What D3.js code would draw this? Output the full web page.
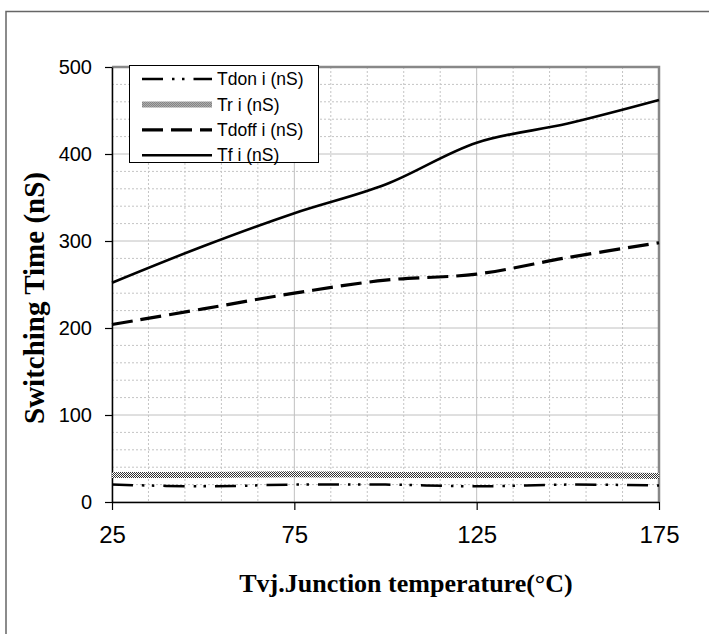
<!DOCTYPE html>
<html>
<head>
<meta charset="utf-8">
<script src="https://cdn.jsdelivr.net/npm/d3@7"></script>
<style>
  body { margin: 0; background: #fff; }
  text { font-family: "Liberation Sans", Arial, sans-serif; }
  .title { font-family: "Liberation Serif", "Times New Roman", serif; font-weight: bold; }
</style>
</head>
<body>
<div id="chart"></div>
<script>
// data
const temps = [25, 50, 75, 100, 125, 150, 175];
const tdon  = [20, 18, 20, 20, 18, 20, 19];
const tr    = [31, 31, 32, 31, 31, 31, 30];
const tdoff = [204, 222, 240, 255, 262, 281, 298];
const tf    = [252, 294, 332, 365, 413, 435, 462];
const seriesNames = ["Tdon i (nS)", "Tr i (nS)", "Tdoff i (nS)", "Tf i (nS)"];
const xTicks = [25, 75, 125, 175];
const yTicks = [0, 100, 200, 300, 400, 500];

const width = 709, height = 634;
const plot = {left: 112, right: 659, top: 67, bottom: 502};

const svg = d3.select("#chart").append("svg")
    .attr("width", width)
    .attr("height", height);

// checker pattern for the Tr line
const defs = svg.append("defs");
const pat = defs.append("pattern")
    .attr("id", "checker")
    .attr("patternUnits", "userSpaceOnUse")
    .attr("width", 2).attr("height", 2);
pat.append("rect").attr("width", 2).attr("height", 2).attr("fill", "#fff");
pat.append("rect").attr("width", 1).attr("height", 1).attr("fill", "#333");
pat.append("rect").attr("x", 1).attr("y", 1).attr("width", 1).attr("height", 1).attr("fill", "#333");

// outer frame (only top/left visible)
svg.append("rect")
    .attr("x", 6).attr("y", 11.5)
    .attr("width", 800).attr("height", 800)
    .attr("fill", "none")
    .attr("stroke", "#666")
    .attr("stroke-width", 1.5);

const x = d3.scaleLinear().domain([25, 175]).range([plot.left, plot.right]);
const y = d3.scaleLinear().domain([0, 500]).range([plot.bottom, plot.top]);

// grid
const grid = svg.append("g").attr("class", "grid");
grid.selectAll(".minor-x").data(d3.range(35, 175, 10).filter(d => (d - 25) % 50 != 0)).enter()
    .append("line")
    .attr("x1", d => x(d)).attr("x2", d => x(d))
    .attr("y1", plot.top).attr("y2", plot.bottom)
    .attr("stroke", "#c4c4c4").attr("stroke-dasharray", "2,2");
grid.selectAll(".minor-y").data(d3.range(20, 500, 20).filter(d => d % 100 != 0)).enter()
    .append("line")
    .attr("x1", plot.left).attr("x2", plot.right)
    .attr("y1", d => y(d)).attr("y2", d => y(d))
    .attr("stroke", "#c4c4c4").attr("stroke-dasharray", "2,2");
grid.selectAll(".major-x").data(xTicks).enter()
    .append("line")
    .attr("x1", d => x(d)).attr("x2", d => x(d))
    .attr("y1", plot.top).attr("y2", plot.bottom)
    .attr("stroke", "#c0c0c0");
grid.selectAll(".major-y").data(yTicks).enter()
    .append("line")
    .attr("x1", plot.left).attr("x2", plot.right)
    .attr("y1", d => y(d)).attr("y2", d => y(d))
    .attr("stroke", "#c0c0c0");

// top/right border of plot area
svg.append("path")
    .attr("d", `M${plot.left},${plot.top}H${plot.right}V${plot.bottom}`)
    .attr("fill", "none")
    .attr("stroke", "#888")
    .attr("stroke-width", 2.5);

// axes
const yAxis = svg.append("g")
    .attr("transform", `translate(${plot.left},0)`)
    .call(d3.axisLeft(y).tickValues(yTicks).tickSize(7).tickSizeOuter(0).tickPadding(13));
const xAxis = svg.append("g")
    .attr("transform", `translate(0,${plot.bottom})`)
    .call(d3.axisBottom(x).tickValues(xTicks).tickSize(8).tickSizeOuter(0).tickPadding(16));

yAxis.selectAll("text").attr("font-size", "20px").attr("font-family", "Liberation Sans, Arial").attr("fill", "#000");
xAxis.selectAll("text").attr("font-size", "24px").attr("font-family", "Liberation Sans, Arial").attr("fill", "#000");
svg.selectAll(".domain").attr("stroke", "#000").attr("stroke-width", 1.5);
svg.selectAll(".tick line").attr("stroke", "#000").attr("stroke-width", 1.2);

// series
const styles = [
    {stroke: "#000", width: 2.5, dash: "21,9,2.5,7.5,2.5,9"},
    {stroke: "url(#checker)", width: 6, dash: null},
    {stroke: "#000", width: 3.2, dash: "21,8"},
    {stroke: "#000", width: 2.6, dash: null}
];
const allSeries = [tdon, tr, tdoff, tf].map((vals, i) => ({
    name: seriesNames[i],
    values: vals.map((v, j) => [temps[j], v]),
    style: styles[i]
}));

const line = d3.line()
    .x(d => x(d[0]))
    .y(d => y(d[1]))
    .curve(d3.curveCatmullRom.alpha(0.5));

svg.selectAll(".series").data(allSeries).enter()
    .append("path")
    .attr("class", "series")
    .attr("d", d => line(d.values))
    .attr("fill", "none")
    .attr("stroke", d => d.style.stroke)
    .attr("stroke-width", d => d.style.width)
    .attr("stroke-dasharray", d => d.style.dash);

// legend
const legend = svg.append("g").attr("class", "legend");
legend.append("rect")
    .attr("x", 129.5).attr("y", 65.5)
    .attr("width", 189).attr("height", 97)
    .attr("fill", "#fff")
    .attr("stroke", "#000");

const items = legend.selectAll(".item").data(allSeries).enter()
    .append("g")
    .attr("transform", (d, i) => `translate(0,${79 + i * 25.4})`);
items.append("line")
    .attr("x1", 142).attr("x2", 212)
    .attr("stroke", d => d.style.stroke)
    .attr("stroke-width", d => d.style.width)
    .attr("stroke-dasharray", d => d.style.dash);
items.append("text")
    .attr("x", 217)
    .attr("dy", "0.35em")
    .attr("font-size", "17.5px")
    .text(d => d.name);

// titles
svg.append("text")
    .attr("class", "title")
    .attr("x", 406).attr("y", 592)
    .attr("text-anchor", "middle")
    .attr("font-size", "26px")
    .text("Tvj.Junction temperature(\u00B0C)");

svg.append("text")
    .attr("class", "title")
    .attr("transform", "translate(44,298) rotate(-90)")
    .attr("text-anchor", "middle")
    .attr("font-size", "29px")
    .text("Switching Time (nS)");
</script>
</body>
</html>
